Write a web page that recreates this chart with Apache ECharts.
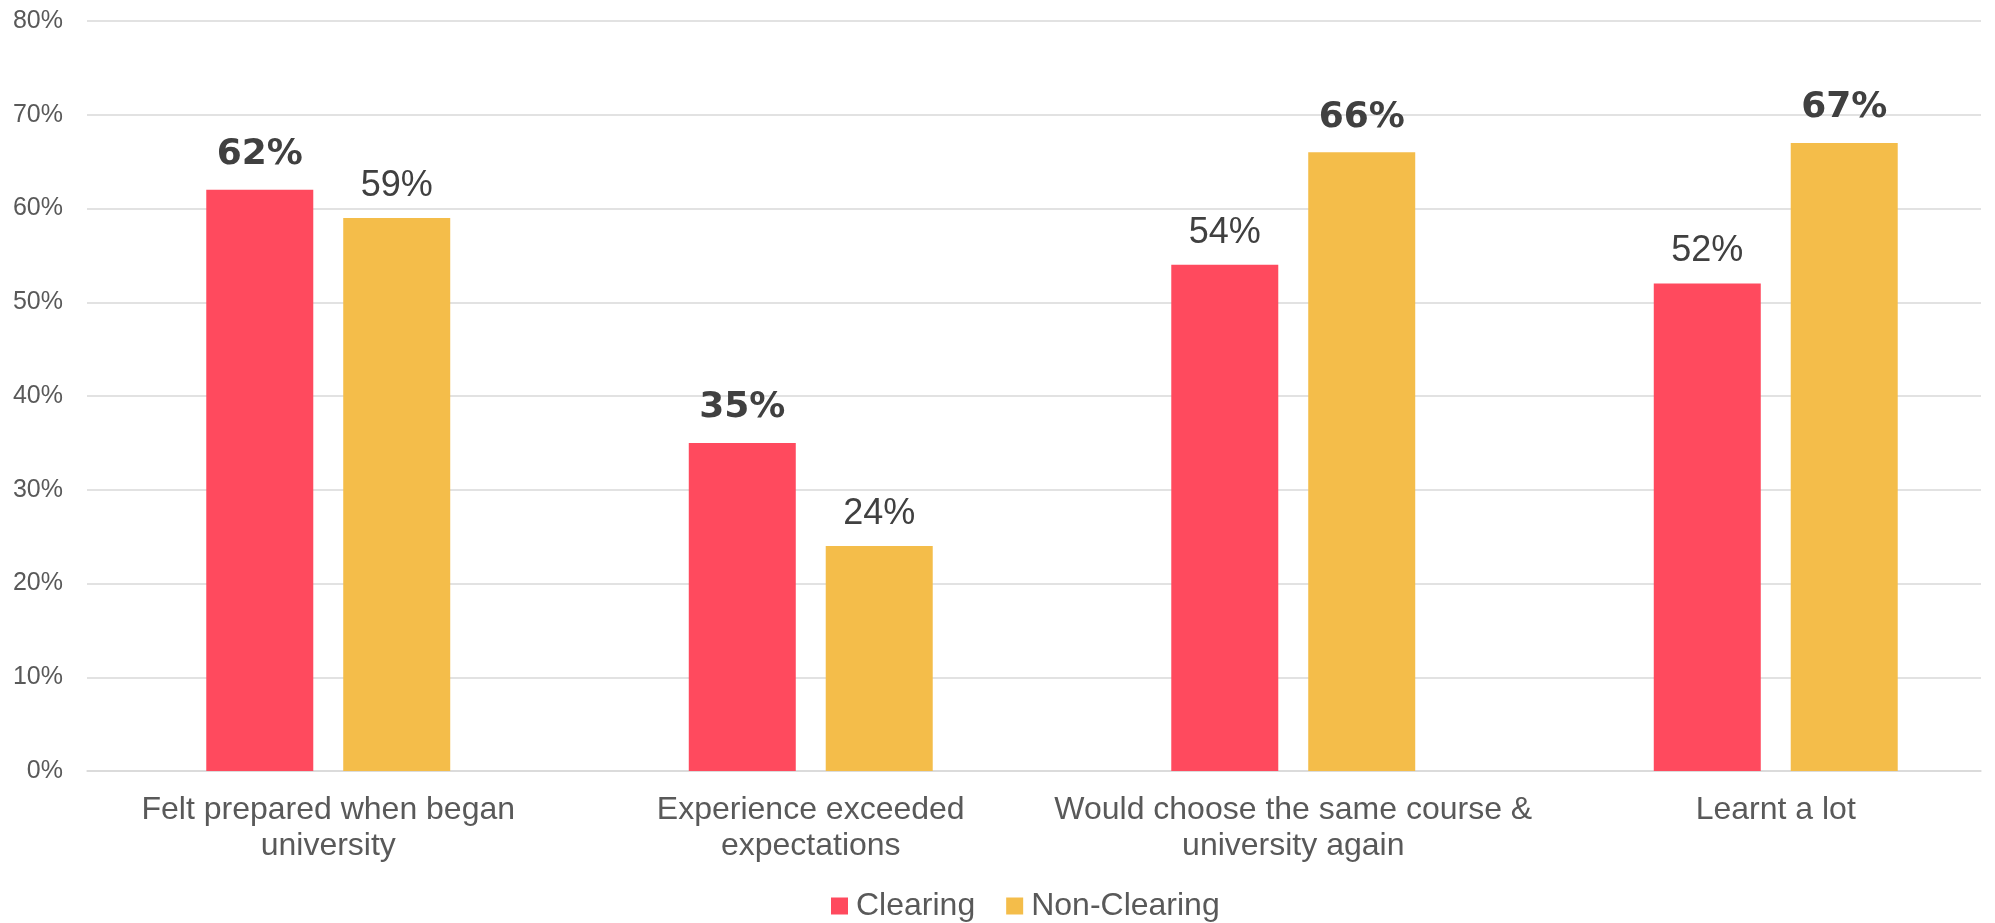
<!DOCTYPE html>
<html><head><meta charset="utf-8">
<script src="https://cdn.jsdelivr.net/npm/echarts@6/dist/echarts.min.js"></script>
<style>html,body{margin:0;padding:0;background:#fff}#c{width:1995px;height:923px}</style>
</head><body><div id="c"></div>
<script>
const categories = ['Felt prepared when began\nuniversity', 'Experience exceeded\nexpectations', 'Would choose the same course &\nuniversity again', 'Learnt a lot'];
const seriesNames = ['Clearing', 'Non-Clearing'];
const clearing = [62, 35, 54, 52];
const nonClearing = [59, 24, 66, 67];
const clearingBold = [true, true, false, false];
const nonClearingBold = [false, false, true, true];
const yMin = 0, yMax = 80, yStep = 10;
const colors = ['#FF4A5E', '#F4BD4A'];

const regLabel = { show: true, position: 'top', distance: 14, fontSize: 36, color: '#404040', fontFamily: 'Liberation Sans, Arial, sans-serif', fontWeight: 'normal', formatter: '{c}%' };
const boldLabel = { show: true, position: 'top', distance: 17, fontSize: 36, color: '#404040', fontFamily: 'DejaVu Sans, sans-serif', fontWeight: 'bold', formatter: '{c}%' };
function items(vals, bold) { return vals.map((v, i) => ({ value: v, label: bold[i] ? boldLabel : regLabel })); }

const chart = echarts.init(document.getElementById('c'), null, { renderer: 'canvas' });
chart.setOption({
  animation: false,
  backgroundColor: '#fff',
  textStyle: { fontFamily: 'Liberation Sans, Arial, sans-serif' },
  grid: [
    { left: 87, top: 21, width: 1894, height: 750, outerBoundsMode: 'none', containLabel: false },
    { left: 87, top: 21, width: 1930, height: 750, outerBoundsMode: 'none', containLabel: false }
  ],
  legend: {
    data: seriesNames, left: 831, top: 890, itemWidth: 17, itemHeight: 17, itemGap: 31, icon: 'rect', padding: 0,
    textStyle: { fontSize: 32, color: '#595959', fontFamily: 'Liberation Sans, Arial, sans-serif', padding: [0, 0, 0, 3] }
  },
  xAxis: [
    { gridIndex: 0, type: 'category', data: [''], axisLine: { show: true, lineStyle: { color: '#d9d9d9', width: 1.5 } }, axisTick: { show: false }, axisLabel: { show: false }, splitLine: { show: false } },
    { gridIndex: 1, type: 'category', data: categories, axisLine: { show: false }, axisTick: { show: false },
      axisLabel: { interval: 0, fontSize: 32, lineHeight: 36, color: '#595959', margin: 21, fontFamily: 'Liberation Sans, Arial, sans-serif' } }
  ],
  yAxis: [
    { gridIndex: 0, type: 'value', min: yMin, max: yMax, interval: yStep,
      axisLine: { show: false }, axisTick: { show: false },
      axisLabel: { formatter: '{value}%', fontSize: 25, color: '#595959', margin: 24 },
      splitLine: { lineStyle: { color: '#d9d9d9', width: 1.5 } } },
    { gridIndex: 1, type: 'value', min: yMin, max: yMax, interval: yStep, show: false, splitLine: { show: false } }
  ],
  series: [
    { name: seriesNames[0], type: 'bar', xAxisIndex: 1, yAxisIndex: 1, barWidth: 107, barGap: '28%', itemStyle: { color: colors[0] }, data: items(clearing, clearingBold) },
    { name: seriesNames[1], type: 'bar', xAxisIndex: 1, yAxisIndex: 1, barWidth: 107, barGap: '28%', itemStyle: { color: colors[1] }, data: items(nonClearing, nonClearingBold) }
  ]
});
</script></body></html>
